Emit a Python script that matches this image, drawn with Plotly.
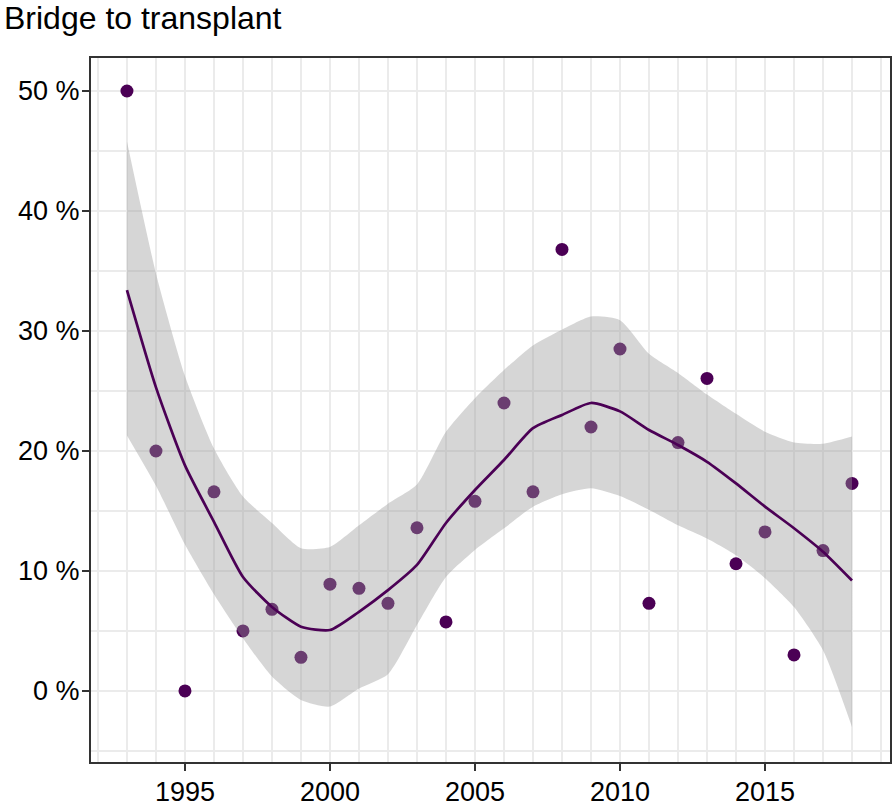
import plotly.graph_objects as go

# ---- data ----
years = list(range(1993, 2019))
share_pct = [50.0, 20.0, 0.0, 16.6, 5.0, 6.8, 2.8, 8.9, 8.55, 7.3, 13.6, 5.75, 15.8,
             24.0, 16.6, 36.8, 22.0, 28.5, 7.3, 20.7, 26.05, 10.6, 13.25, 3.0, 11.7, 17.3]

smooth_fit = [33.4, 25.3, 18.8, 14.1, 9.5, 7.0, 5.36, 5.08, 6.6, 8.4, 10.5, 14.0, 16.75,
              19.25, 21.9, 23.0, 24.0, 23.3, 21.75, 20.5, 19.1, 17.3, 15.36, 13.56, 11.6, 9.2]
smooth_upper = [45.8, 34.8, 26.25, 20.2, 16.2, 14.0, 11.9, 12.0, 13.8, 15.6, 17.2, 21.6, 24.4,
                26.75, 28.8, 30.1, 31.2, 30.9, 28.1, 26.5, 24.7, 23.1, 21.6, 20.7, 20.6, 21.2]
smooth_lower = [21.3, 17.1, 12.2, 8.05, 4.4, 1.2, -0.75, -1.3, 0.2, 1.4, 5.5, 9.5, 11.75,
                13.56, 15.36, 16.4, 16.9, 16.25, 15.1, 13.8, 12.7, 11.3, 9.4, 7.0, 3.4, -3.0]

x_tick_vals = [1995, 2000, 2005, 2010, 2015]
x_tick_text = ["1995", "2000", "2005", "2010", "2015"]
y_tick_vals = [0, 10, 20, 30, 40, 50]
y_tick_text = ["0 %", "10 %", "20 %", "30 %", "40 %", "50 %"]

title_text = "Bridge to transplant"

purple = "#4B0055"
font_family = "Liberation Sans, Arial, sans-serif"

fig = go.Figure()

# points (drawn first, ribbon overlays them as in the reference)
fig.add_trace(go.Scatter(
    x=years, y=share_pct, mode="markers",
    marker=dict(color=purple, size=13, line=dict(width=0)),
    showlegend=False, hoverinfo="x+y"))

# confidence ribbon: lower bound, then upper bound filled to it
fig.add_trace(go.Scatter(
    x=years, y=smooth_lower, mode="lines",
    line=dict(width=0, shape="spline", smoothing=0.6, color="rgba(0,0,0,0)"),
    showlegend=False, hoverinfo="skip"))
fig.add_trace(go.Scatter(
    x=years, y=smooth_upper, mode="lines",
    fill="tonexty", fillcolor="rgba(153,153,153,0.4)",
    line=dict(width=0, shape="spline", smoothing=0.6, color="rgba(0,0,0,0)"),
    showlegend=False, hoverinfo="skip"))

# smooth line
fig.add_trace(go.Scatter(
    x=years, y=smooth_fit, mode="lines",
    line=dict(color=purple, width=2.7, shape="spline", smoothing=0.6),
    showlegend=False))

axis_common = dict(
    showline=True, linecolor="#333333", linewidth=2, mirror=True,
    ticks="outside", ticklen=7, tickwidth=2, tickcolor="#333333",
    showgrid=True, gridcolor="#EBEBEB", gridwidth=2,
    zeroline=False, automargin=False,
    tickfont=dict(family=font_family, size=27, color="#000000"),
)

fig.update_xaxes(
    **axis_common,
    range=[1991.76, 2019.31],
    tickmode="array", tickvals=x_tick_vals, ticktext=x_tick_text,
    ticklabelstandoff=-2,
    minor=dict(dtick=1, tick0=1990, showgrid=True, gridcolor="#EBEBEB", gridwidth=1.6, ticks=""),
)
fig.update_yaxes(
    **axis_common,
    range=[-5.92, 52.75],
    tickmode="array", tickvals=y_tick_vals, ticktext=y_tick_text,
    ticklabelstandoff=-3,
    minor=dict(dtick=5, tick0=0, showgrid=True, gridcolor="#EBEBEB", gridwidth=1.6, ticks=""),
)

fig.update_layout(
    width=896, height=807,
    margin=dict(l=91, r=6, t=58, b=45, autoexpand=False),
    paper_bgcolor="white", plot_bgcolor="white",
    title=dict(text=title_text, x=4 / 896, xanchor="left", xref="container",
               y=1 - 7 / 807, yanchor="top", yref="container",
               font=dict(family=font_family, size=32, color="#000000")),
    showlegend=False,
)

fig.write_html("out.html", config={"displayModeBar": False},
               post_script="document.body.style.margin='0';")
